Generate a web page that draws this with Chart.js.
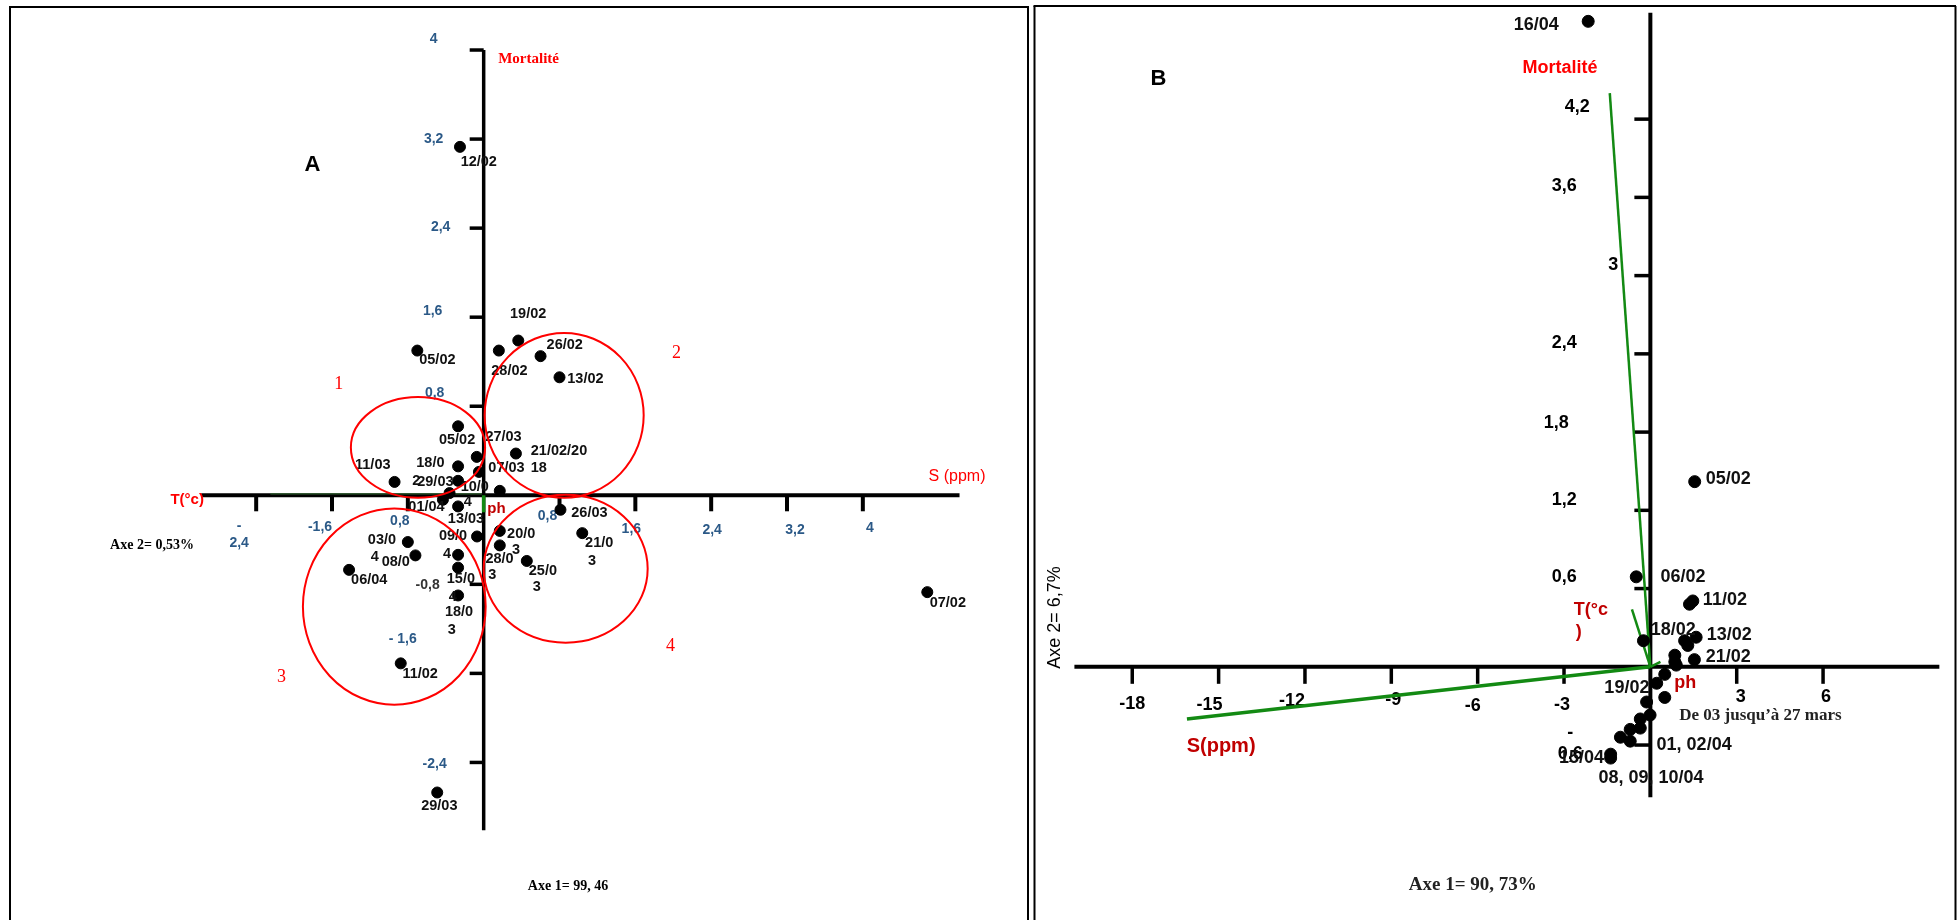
<!DOCTYPE html>
<html>
<head>
<meta charset="utf-8">
<script src="https://cdn.jsdelivr.net/npm/chart.js@4.4.1/dist/chart.umd.min.js"></script>
<style>
  body { margin: 0; background: #fff; width: 1957px; height: 920px; overflow: hidden; position: relative; }
  canvas { position: absolute; top: 0; }
  #chartA { left: 0; }
  #chartB { left: 1032px; }
</style>
</head>
<body>
<canvas id="chartA" width="1032" height="920"></canvas>
<canvas id="chartB" width="925" height="920"></canvas>
<script>
// ---- Panel A : sampling dates on factorial axes 1 / 2
const datesA = ['12/02','05/02','19/02','28/02','26/02','13/02','05/02','27/03','21/02','07/03',
  '18/03','11/03','29/03','10/04','30/03','01/04','13/03','26/03','20/03','09/04',
  '21/03','03/04','08/04','04/04','28/03','25/03','14/04','06/04','15/04','11/02','29/03','07/02'];
const axe1A = [-0.25,-0.70,0.365,0.16,0.60,0.80,-0.27,-0.073,0.34,-0.05,
  -0.27,-0.94,-0.27,0.17,-0.36,-0.43,-0.27,0.81,0.17,-0.07,
  1.04,-0.80,-0.72,-0.27,0.17,0.455,-0.27,-1.42,-0.27,-0.875,-0.49,4.68];
const axe2A = [3.13,1.30,1.39,1.30,1.25,1.06,0.62,0.345,0.375,0.21,
  0.26,0.12,0.13,0.04,0.02,-0.04,-0.10,-0.13,-0.32,-0.37,
  -0.34,-0.42,-0.54,-0.535,-0.45,-0.59,-0.65,-0.67,-0.90,-1.51,-2.67,-0.87];

// point labels as printed on the figure (text, axe1, axe2)
const labelsA = [
  ['12/02',-0.243,2.992],['05/02',-0.680,1.212],['19/02',0.278,1.628],['26/02',0.664,1.353],
  ['28/02',0.080,1.114],['13/02',0.882,1.043],['05/02',-0.472,0.494],['27/03',0.018,0.521],
  ['21/02/20',0.497,0.397],['18',0.497,0.246],['07/03',0.049,0.246],['18/0',-0.711,0.291],
  ['11/03',-1.357,0.273],['2',-0.753,0.131],['29/03',-0.701,0.122],['10/0',-0.243,0.078],
  ['01/04',-0.795,-0.108],['4',-0.211,-0.064],['13/03',-0.378,-0.214],
  ['20/0',0.247,-0.347],['3',0.299,-0.489],['09/0',-0.472,-0.365],['4',-0.430,-0.524],
  ['21/0',1.070,-0.427],['3',1.101,-0.586],['03/0',-1.222,-0.401],['4',-1.191,-0.551],
  ['08/0',-1.076,-0.595],['28/0',0.018,-0.569],['3',0.049,-0.719],['25/0',0.476,-0.684],
  ['3',0.518,-0.826],['06/04',-1.399,-0.760],['15/0',-0.389,-0.751],['4',-0.368,-0.911],
  ['18/0',-0.409,-1.052],['3',-0.378,-1.206],['11/02',-0.857,-1.605],['29/03',-0.659,-2.791],
  ['07/02',4.705,-0.965],['26/03',0.924,-0.161]
];
const groupsA = ['1','2','3','4'];
const groupLabelX = [-1.576,1.986,-2.180,1.924];
const groupLabelY = [0.999,1.274,-1.631,-1.357];
const groupCenterX = [-0.693,0.849,-0.943,0.865];
const groupCenterY = [0.430,0.718,-1.0,-0.66];
const groupRadiusX = [0.708,0.839,0.964,0.865];
const groupRadiusY = [0.452,0.740,0.881,0.664];

const xTicksA = [-2.4,-1.6,-0.8,0.8,1.6,2.4,3.2,4];
const xTickLabelsA = ['-\n2,4','-1,6','0,8','0,8','1,6','2,4','3,2','4'];
const yTicksA = [4,3.2,2.4,1.6,0.8,-0.8,-1.6,-2.4];
const yTickLabelsA = ['4','3,2','2,4','1,6','0,8','-0,8','- 1,6','-2,4'];

// ---- Panel B
const datesB = ['16/04','05/02','06/02','11/02','11/02','18/02','13/02','13/02','13/02','21/02',
  '03/03','04/03','05/03','06/03','19/02','07/03','20/02','01/04','02/04','03/04',
  '04/04','05/04','08/04','09/04','10/04'];
const axe1B = [-2.16,1.54,-0.49,1.475,1.36,-0.24,1.59,1.19,1.30,1.53,
  0.85,0.85,0.90,0.50,0.22,0.50,-0.13,-0.01,-0.35,-0.35,
  -0.70,-1.04,-0.70,-1.38,-1.38];
const axe2B = [4.95,1.42,0.69,0.505,0.48,0.20,0.227,0.20,0.164,0.055,
  0.089,0.038,0.013,-0.058,-0.126,-0.235,-0.27,-0.37,-0.40,-0.47,
  -0.48,-0.54,-0.57,-0.67,-0.70];
const labelsB = [
  ['16/04',-4.747,4.924],['05/02',1.927,1.443],['06/02',0.353,0.687],['11/02',1.824,0.514],
  ['18/02',0.010,0.279],['13/02',1.961,0.242],['21/02',1.927,0.076],['19/02',-1.598,-0.166],
  ['01, 02/04',0.216,-0.597],['15/04',-3.173,-0.702],['08, 09, 10/04',-1.804,-0.853]
];
// variables projected on the plane (arrows from origin)
const varsB = ['Mortalité','T(°c','S(ppm)','ph'];
const varAxe1B = [-1.41,-0.64,-16.1,0.35];
const varAxe2B = [4.40,0.44,-0.40,0.038];

const xTicksB = [-18,-15,-12,-9,-6,-3,3,6];
const xTickLabelsB = ['-18','-15','-12','-9','-6','-3','3','6'];
const yTicksB = [4.2,3.6,3,2.4,1.8,1.2,0.6,-0.6];
const yTickLabelsB = ['4,2','3,6','3','2,4','1,8','1,2','0,6','-\n0,6'];

// ---- styles
const SANS = '"Liberation Sans", Arial, sans-serif';
const SERIF = '"Liberation Serif", "Times New Roman", serif';
const BLUE = '#2b5987';
const RED = '#ff0000';
const DARKRED = '#c00000';
const GREEN = '#138a13';

// pixel nudges of the tick labels relative to their tick
const xTickNudgeA = [[-17,31],[-12,32],[-8,26],[-12,21],[-4,34],[1,35],[8,35],[7,33]];
const yTickNudgeA = [[-50,-11],[-50,0],[-43,-1],[-51,-6],[-49,-13],[-56,1],[-81,-34],[-49,2]];
const xTickNudgeB = [[0,37],[-9,38],[-13,34],[2,33],[-5,39],[-2,38],[4,30],[3,30]];
const yTickNudgeB = [[-73,-12],[-86,-11],[-37,-11],[-86,-11],[-94,-9],[-86,-10],[-86,-12],[-80,-12]];

function text(ctx, s, x, y, font, color, align, lineH) {
  ctx.font = font;
  ctx.fillStyle = color;
  ctx.textAlign = align || 'left';
  ctx.textBaseline = 'middle';
  s.split('\n').forEach((t, i) => ctx.fillText(t, x, y + i * (lineH || 16)));
}
function seg(ctx, x1, y1, x2, y2, w, color) {
  ctx.beginPath();
  ctx.lineWidth = w;
  ctx.strokeStyle = color;
  ctx.moveTo(x1, y1);
  ctx.lineTo(x2, y2);
  ctx.stroke();
}

const panelA = {
  id: 'panelA',
  beforeDatasetsDraw(chart) {
    const { ctx, scales: { x, y } } = chart;
    const x0 = x.getPixelForValue(0), y0 = y.getPixelForValue(0);
    ctx.save();
    // frame
    seg(ctx, 10, 7, 10, 920, 2, '#000');
    seg(ctx, 9, 7, 1029, 7, 2, '#000');
    seg(ctx, 1028, 7, 1028, 920, 2, '#000');
    // axes through the origin
    seg(ctx, x.getPixelForValue(-2.98), y0, x.getPixelForValue(5.02), y0, 4, '#000');
    seg(ctx, x.getPixelForValue(-2.25), y0 - 1.5, x0, y0 - 1.5, 1.2, '#2f5f2f');
    seg(ctx, x0, y.getPixelForValue(4.0), x0, y.getPixelForValue(-3.01), 3.5, '#000');
    seg(ctx, x0, y0, x0, y0 + 17, 3.5, GREEN);
    xTicksA.forEach((v, i) => {
      const px = x.getPixelForValue(v);
      seg(ctx, px, y0, px, y0 + 16, 4, '#000');
      text(ctx, xTickLabelsA[i], px + xTickNudgeA[i][0], y0 + xTickNudgeA[i][1],
        'bold 14px ' + SANS, BLUE, 'center', 16.5);
    });
    yTicksA.forEach((v, i) => {
      const py = y.getPixelForValue(v);
      seg(ctx, x0 - 14, py, x0, py, 3.5, '#000');
      text(ctx, yTickLabelsA[i], x0 + yTickNudgeA[i][0], py + yTickNudgeA[i][1],
        'bold 14px ' + SANS, v === -0.8 ? '#333' : BLUE, 'center');
    });
    ctx.restore();
  },
  afterDatasetsDraw(chart) {
    const { ctx, scales: { x, y } } = chart;
    ctx.save();
    labelsA.forEach(([s, vx, vy]) =>
      text(ctx, s, x.getPixelForValue(vx), y.getPixelForValue(vy), 'bold 14.5px ' + SANS, '#111'));
    // groups
    groupsA.forEach((g, i) => {
      const cx = x.getPixelForValue(groupCenterX[i]), cy = y.getPixelForValue(groupCenterY[i]);
      const rx = Math.abs(x.getPixelForValue(groupCenterX[i] + groupRadiusX[i]) - cx);
      const ry = Math.abs(y.getPixelForValue(groupCenterY[i] + groupRadiusY[i]) - cy);
      ctx.beginPath();
      ctx.lineWidth = 2;
      ctx.strokeStyle = RED;
      ctx.ellipse(cx, cy, rx, ry, 0, 0, Math.PI * 2);
      ctx.stroke();
      text(ctx, g, x.getPixelForValue(groupLabelX[i]), y.getPixelForValue(groupLabelY[i]),
        '18px ' + SERIF, RED);
    });
    const at = (vx, vy) => [x.getPixelForValue(vx), y.getPixelForValue(vy)];
    text(ctx, 'Mortalité', ...at(0.153, 3.922), 'bold 15px ' + SERIF, RED);
    text(ctx, 'S (ppm)', ...at(4.694, 0.167), '16px ' + SANS, RED);
    text(ctx, 'T(°c)', ...at(-3.305, -0.037), 'bold 15px ' + SANS, RED);
    text(ctx, 'ph', ...at(0.039, -0.126), 'bold 15px ' + SANS, DARKRED);
    text(ctx, 'A', ...at(-1.889, 2.965), 'bold 22px ' + SANS, '#000');
    text(ctx, 'Axe 2= 0,53%', ...at(-3.941, -0.454), 'bold 14px ' + SERIF, '#000');
    text(ctx, 'Axe 1= 99, 46', ...at(0.466, -3.517), 'bold 14px ' + SERIF, '#000');
    ctx.restore();
  }
};

const panelB = {
  id: 'panelB',
  beforeDatasetsDraw(chart) {
    const { ctx, scales: { x, y } } = chart;
    const x0 = x.getPixelForValue(0), y0 = y.getPixelForValue(0);
    ctx.save();
    seg(ctx, 2.5, 6, 2.5, 920, 2, '#000');
    seg(ctx, 1.5, 6, 924, 6, 2, '#000');
    seg(ctx, 923.5, 6, 923.5, 920, 2, '#000');
    seg(ctx, x.getPixelForValue(-20.01), y0, x.getPixelForValue(10.04), y0, 4, '#000');
    seg(ctx, x0, y.getPixelForValue(5.015), x0, y.getPixelForValue(-1.0), 4, '#000');
    xTicksB.forEach((v, i) => {
      const px = x.getPixelForValue(v);
      seg(ctx, px, y0, px, y0 + 17, 3.5, '#000');
      text(ctx, xTickLabelsB[i], px + xTickNudgeB[i][0], y0 + xTickNudgeB[i][1],
        'bold 18px ' + SANS, '#000', 'center');
    });
    yTicksB.forEach((v, i) => {
      const py = y.getPixelForValue(v);
      seg(ctx, x0 - 16, py, x0, py, 3.5, '#000');
      text(ctx, yTickLabelsB[i], x0 + yTickNudgeB[i][0], py + yTickNudgeB[i][1],
        'bold 18px ' + SANS, '#000', 'center', 21);
    });
    ctx.restore();
  },
  afterDatasetsDraw(chart) {
    const { ctx, scales: { x, y } } = chart;
    const at = (vx, vy) => [x.getPixelForValue(vx), y.getPixelForValue(vy)];
    ctx.save();
    labelsB.forEach(([s, vx, vy]) => text(ctx, s, ...at(vx, vy), 'bold 18px ' + SANS, '#111'));
    text(ctx, 'De 03 jusqu’à 27 mars', ...at(1.003, -0.378), 'bold 17px ' + SERIF, '#222');
    text(ctx, 'Mortalité', ...at(-4.439, 4.592), 'bold 18px ' + SANS, RED);
    text(ctx, 'S(ppm)', ...at(-16.11, -0.612), 'bold 20px ' + SANS, DARKRED);
    text(ctx, 'ph', ...at(0.832, -0.128), 'bold 18px ' + SANS, DARKRED);
    text(ctx, 'T(°c', ...at(-2.659, 0.438), 'bold 18px ' + SANS, DARKRED);
    text(ctx, ')', ...at(-2.591, 0.264), 'bold 18px ' + SANS, DARKRED);
    text(ctx, 'B', ...at(-17.37, 4.509), 'bold 22px ' + SANS, '#000');
    text(ctx, 'Axe 1= 90, 73%', ...at(-8.391, -1.677), 'bold 19px ' + SERIF, '#222');
    const [ax, ay] = at(-20.69, 0.378);
    ctx.translate(ax, ay);
    ctx.rotate(-Math.PI / 2);
    text(ctx, 'Axe 2= 6,7%', 0, 0, '18px ' + SANS, '#000', 'center');
    ctx.restore();
  }
};

const common = (xr, yr) => ({
  responsive: false,
  animation: false,
  devicePixelRatio: 1,
  layout: { padding: 0 },
  plugins: { legend: { display: false }, tooltip: { enabled: false } },
  scales: {
    x: { type: 'linear', min: xr[0], max: xr[1], display: false },
    y: { type: 'linear', min: yr[0], max: yr[1], display: false }
  }
});

new Chart(document.getElementById('chartA'), {
  type: 'scatter',
  data: {
    datasets: [{
      label: 'Dates',
      data: datesA.map((d, i) => ({ x: axe1A[i], y: axe2A[i] })),
      backgroundColor: '#000',
      borderColor: '#000',
      pointRadius: 5.5,
      pointHoverRadius: 5.5
    }]
  },
  options: common([-5.034, 5.716], [-3.757, 4.391]),
  plugins: [panelA]
});

new Chart(document.getElementById('chartB'), {
  type: 'scatter',
  data: {
    datasets: [
      {
        label: 'Dates',
        data: datesB.map((d, i) => ({ x: axe1B[i], y: axe2B[i] })),
        backgroundColor: '#000',
        borderColor: '#000',
        pointRadius: 6,
        pointHoverRadius: 6,
        order: 0
      },
      ...varsB.map((v, i) => ({
        label: v,
        data: [{ x: 0, y: 0 }, { x: varAxe1B[i], y: varAxe2B[i] }],
        showLine: true,
        borderColor: GREEN,
        borderWidth: v === 'S(ppm)' ? 3.5 : 2.5,
        pointRadius: 0,
        order: 1
      }))
    ]
  },
  options: common([-21.24, 10.41], [-1.888, 5.06]),
  plugins: [panelB]
});
</script>
</body>
</html>
